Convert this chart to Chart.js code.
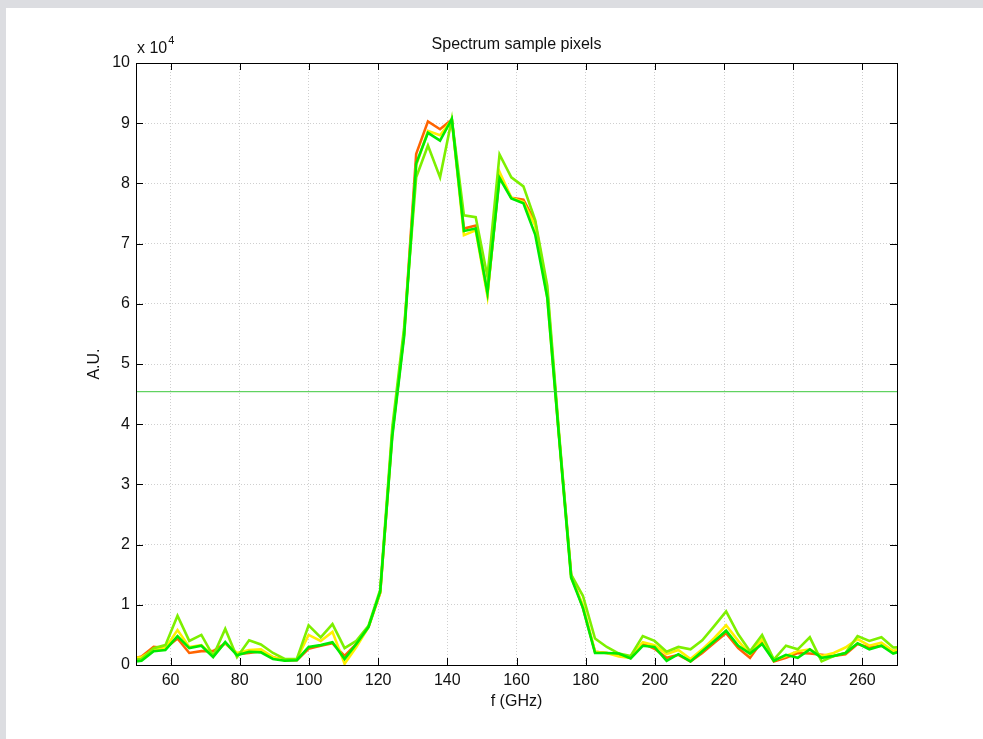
<!DOCTYPE html>
<html>
<head>
<meta charset="utf-8">
<title>Spectrum sample pixels</title>
<script src="https://cdn.jsdelivr.net/npm/chart.js@4.4.1/dist/chart.umd.min.js"></script>
<style>
    html, body { margin: 0; padding: 0; background: #dcdde1; }
    #spectrum { position: absolute; left: 0; top: 0; }
</style>
</head>
<body>
<canvas id="spectrum" width="983" height="739"></canvas>
<script>
// Frecuencias de las muestras (GHz)
const freqs = [48.2, 51.6, 55.1, 58.5, 62.0, 65.4, 68.9, 72.3, 75.8, 79.2,
    82.7, 86.1, 89.6, 93.0, 96.5, 99.9, 103.4, 106.8, 110.3, 113.7,
    117.2, 120.6, 124.1, 127.5, 131.0, 134.4, 137.9, 141.3, 144.8, 148.2,
    151.6, 155.1, 158.5, 162.0, 165.4, 168.9, 172.3, 175.8, 179.2, 182.7,
    186.1, 189.6, 193.0, 196.5, 199.9, 203.4, 206.8, 210.3, 213.7, 217.2,
    220.6, 224.1, 227.5, 231.0, 234.4, 237.9, 241.3, 244.8, 248.2, 251.7,
    255.1, 258.6, 262.0, 265.5, 268.9, 272.4];

// Valores de cada pixel (A.U.)
const pixelOrange = [1000, 1400, 3000, 2800, 4400, 2000, 2300, 2300, 3600, 1800,
    2000, 2300, 1300, 800, 800, 2700, 3200, 3600, 1500, 3500,
    6300, 12000, 38500, 55000, 84900, 90300, 89000, 90600, 72500, 73000,
    61700, 81200, 77600, 77300, 73600, 62000, 38000, 15000, 9500, 2200,
    2000, 1700, 1200, 3600, 2700, 1200, 1700, 600, 2000, 3700,
    5300, 2800, 1200, 4000, 600, 1200, 2000, 1900, 1700, 1500,
    1800, 3500, 2900, 3200, 2300, 2500];
const pixelYellow = [1200, 1300, 2500, 2800, 5800, 3000, 3300, 1500, 3700, 2000,
    2500, 2600, 1300, 800, 1000, 5000, 4000, 5500, 200, 3000,
    6300, 12000, 38500, 55000, 83000, 88700, 88000, 90600, 71400, 72200,
    61300, 81900, 77600, 76900, 73000, 61000, 38000, 14500, 10000, 2200,
    2000, 1400, 1200, 3800, 3300, 1800, 2500, 1000, 2600, 4500,
    6600, 4000, 1800, 4300, 800, 1500, 2300, 2600, 1500, 2000,
    2900, 4300, 3200, 3700, 2300, 3000];
const pixelLime = [800, 1000, 2800, 3300, 8200, 4000, 5000, 1500, 6000, 1300,
    4100, 3400, 2000, 1000, 1000, 6600, 4600, 6800, 2800, 4000,
    6500, 12500, 39500, 56000, 81000, 86300, 81000, 90700, 74700, 74400,
    64500, 84800, 81000, 79500, 73900, 63000, 38500, 15000, 11500, 4400,
    3000, 1900, 1500, 4800, 4000, 2200, 3000, 2600, 4100, 6500,
    8900, 5100, 2300, 5000, 900, 3200, 2600, 4600, 600, 1500,
    2000, 4800, 4000, 4600, 2900, 3000];
const pixelGreen = [500, 700, 2300, 2500, 4800, 2800, 3200, 1300, 3800, 1600,
    2200, 2100, 1000, 700, 800, 3000, 3300, 3800, 1000, 3500,
    6300, 12200, 38000, 54500, 83300, 88400, 87100, 90700, 72100, 72500,
    61800, 80900, 77500, 76700, 71500, 61000, 37800, 14500, 9500, 2000,
    2000, 1900, 1100, 3200, 3000, 700, 1800, 600, 2300, 4000,
    5700, 3200, 1900, 3500, 700, 1700, 1200, 2600, 1200, 1500,
    2000, 3600, 2600, 3200, 1900, 2500];

// Umbral (línea horizontal)
const threshold = 45400;

// Marcas de los ejes
const xTicks = [60, 80, 100, 120, 140, 160, 180, 200, 220, 240, 260];
const yTicks = [0, 10000, 20000, 30000, 40000, 50000, 60000, 70000, 80000, 90000, 100000];
const xRange = [50, 270];
const yRange = [0, 100000];

const FONT = '"Liberation Sans", Arial, sans-serif';

function toPoints(values) {
    return values.map((v, i) => ({ x: freqs[i], y: v }));
}

function lineSet(label, values, color) {
    return {
        label: label,
        data: toPoints(values),
        borderColor: color,
        borderWidth: 2.6,
        pointRadius: 0,
        tension: 0,
        fill: false
    };
}

// Fondo gris con el panel blanco
const backgroundPlugin = {
    id: 'background',
    beforeDraw(chart) {
        const ctx = chart.ctx;
        ctx.save();
        ctx.fillStyle = '#dcdde1';
        ctx.fillRect(0, 0, chart.width, chart.height);
        ctx.fillStyle = '#ffffff';
        ctx.fillRect(6, 8, chart.width - 6, chart.height - 8);
        ctx.restore();
    }
};

// Caja del gráfico, marcas interiores y textos
const framePlugin = {
    id: 'frame',
    afterDraw(chart) {
        const ctx = chart.ctx;
        const area = chart.chartArea;
        const xs = chart.scales.x;
        const ys = chart.scales.y;
        const len = 7;

        ctx.save();
        ctx.strokeStyle = '#000000';
        ctx.lineWidth = 1;
        ctx.beginPath();
        xTicks.forEach(v => {
            const px = Math.round(xs.getPixelForValue(v)) + 0.5;
            ctx.moveTo(px, area.bottom);
            ctx.lineTo(px, area.bottom - len);
            ctx.moveTo(px, area.top);
            ctx.lineTo(px, area.top + len);
        });
        yTicks.forEach(v => {
            const py = Math.round(ys.getPixelForValue(v)) + 0.5;
            ctx.moveTo(area.left, py);
            ctx.lineTo(area.left + len, py);
            ctx.moveTo(area.right, py);
            ctx.lineTo(area.right - len, py);
        });
        ctx.stroke();
        ctx.strokeRect(Math.round(area.left) + 0.5, Math.round(area.top) + 0.5,
            Math.round(area.right - area.left), Math.round(area.bottom - area.top));

        ctx.fillStyle = '#111111';
        const cx = (area.left + area.right) / 2;
        ctx.font = '16px ' + FONT;
        ctx.textAlign = 'center';
        ctx.textBaseline = 'middle';
        ctx.fillText('Spectrum sample pixels', cx, 45);
        ctx.fillText('f (GHz)', cx, 702);

        // Multiplicador del eje Y
        ctx.textAlign = 'left';
        ctx.textBaseline = 'alphabetic';
        ctx.fillText('x 10', area.left + 1, 53);
        const w = ctx.measureText('x 10').width;
        ctx.font = '11px ' + FONT;
        ctx.fillText('4', area.left + 2 + w, 44);

        ctx.font = '16px ' + FONT;
        ctx.translate(95, (area.top + area.bottom) / 2);
        ctx.rotate(-Math.PI / 2);
        ctx.textAlign = 'center';
        ctx.textBaseline = 'middle';
        ctx.fillText('A.U.', 0, 0);
        ctx.restore();
    }
};

// Chart.js pinta el primer dataset encima: verde arriba, naranja abajo
new Chart(document.getElementById('spectrum'), {
    type: 'line',
    data: {
        datasets: [
            {
                label: 'umbral',
                data: [{ x: xRange[0], y: threshold }, { x: xRange[1], y: threshold }],
                borderColor: 'rgb(60, 200, 60)',
                borderWidth: 1,
                pointRadius: 0,
                fill: false
            },
            lineSet('pixel 4', pixelGreen, 'rgb(0, 235, 0)'),
            lineSet('pixel 3', pixelLime, 'rgb(125, 240, 0)'),
            lineSet('pixel 2', pixelYellow, 'rgb(255, 240, 0)'),
            lineSet('pixel 1', pixelOrange, 'rgb(255, 100, 0)')
        ]
    },
    options: {
        responsive: false,
        animation: false,
        layout: { padding: { left: 0, top: 63, right: 86, bottom: 0 } },
        plugins: {
            legend: { display: false },
            title: { display: false },
            tooltip: { enabled: false }
        },
        scales: {
            x: {
                type: 'linear',
                min: xRange[0],
                max: xRange[1],
                afterBuildTicks: scale => { scale.ticks = xTicks.map(v => ({ value: v })); },
                afterFit: scale => { scale.height = 74; },
                grid: { color: '#cfcfcf', lineWidth: 1, drawTicks: false },
                border: { display: false, dash: [1, 2] },
                ticks: {
                    color: '#111111',
                    font: { family: FONT, size: 16 },
                    padding: 6,
                    maxRotation: 0,
                    autoSkip: false
                }
            },
            y: {
                type: 'linear',
                min: yRange[0],
                max: yRange[1],
                afterBuildTicks: scale => { scale.ticks = yTicks.map(v => ({ value: v })); },
                afterFit: scale => { scale.width = 136; },
                grid: { color: '#cfcfcf', lineWidth: 1, drawTicks: false },
                border: { display: false, dash: [1, 2] },
                ticks: {
                    color: '#111111',
                    font: { family: FONT, size: 16 },
                    padding: 6,
                    autoSkip: false,
                    callback: v => String(v / 10000)
                }
            }
        }
    },
    plugins: [backgroundPlugin, framePlugin]
});
</script>
</body>
</html>
